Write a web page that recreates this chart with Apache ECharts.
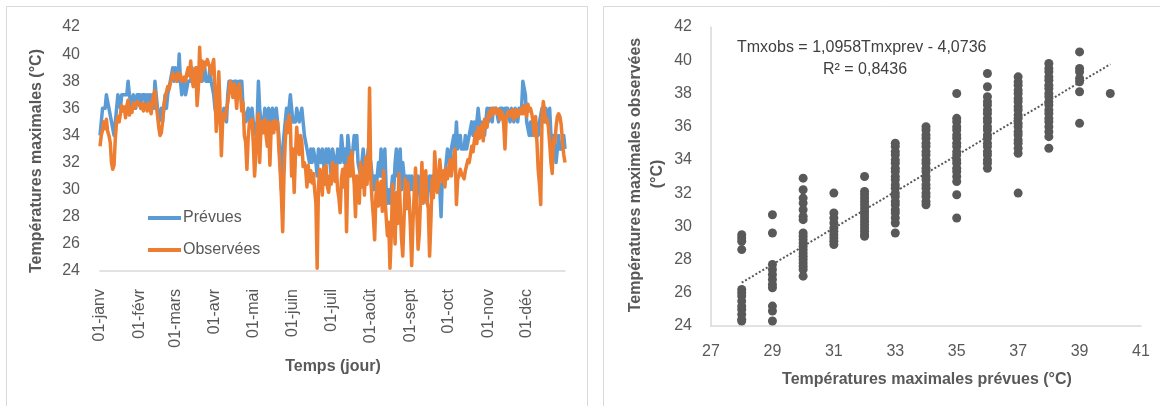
<!DOCTYPE html>
<html>
<head>
<meta charset="utf-8">
<script src="https://cdn.jsdelivr.net/npm/echarts@6/dist/echarts.min.js"></script>
<style>
html,body{margin:0;padding:0;background:#fff;}
#c{width:1160px;height:406px;}
</style>
</head>
<body>
<div id="c"></div>
<script>
// ---------- DATA ----------
const months = ['janv','févr','mars','avr','mai','juin','juil','août','sept','oct','nov','déc'];
const monthDays = [31,28,31,30,31,30,31,31,30,31,30,31];

// Températures maximales prévues (°C), daily
const prevues = [
34,35,36,36,36,37,37,36,36,35,
35,34,35,36,37,37,36,37,37,37,
37,37,38,37,37,36,37,37,36,37,
37,37,36,37,37,37,36,37,36,37,
36,37,36,38,37,36,35,35,36,35,
36,37,36,37,37,38,38,39,38,39,
39,38,40,38,37,37,38,37,37,38,
38,38,39,38,38,38,39,38,38,39,
38,38,39,38,38,38,39,38,38,37,
36,36,35,36,35,35,35,36,36,35,
37,38,38,38,37,38,38,38,37,38,
38,38,36,36,35,35,36,35,35,36,
35,35,34,35,38,36,35,35,35,36,
36,35,36,35,35,36,35,35,36,35,
34,32,30,33,34,35,36,35,36,37,
36,35,35,35,36,36,35,35,36,36,
34,34,33,33,32,33,32,33,33,32,
31,33,33,32,33,32,31,33,32,33,
32,31,33,33,32,31,33,33,32,34,
33,32,33,31,34,33,33,32,33,34,
33,34,32,32,31,32,33,32,31,32,
33,33,32,31,30,31,30,31,32,31,
33,31,32,33,30,29,30,29,30,31,
30,32,33,31,32,33,30,32,31,30,
31,30,31,30,31,30,30,31,30,31,
30,29,30,31,30,31,29,30,31,30,
31,30,31,30,31,31,30,28,31,31,
31,32,33,33,32,33,33,34,33,35,
33,33,34,33,33,33,34,33,33,34,
34,35,34,35,34,35,36,35,34,35,
35,34,35,36,35,36,36,35,36,36,
36,36,35,36,36,36,35,36,36,36,
36,35,36,36,35,36,36,35,36,36,
36,38,38,37,35,35,34,35,34,35,
34,35,35,34,35,35,36,36,35,36,
36,35,36,34,33,34,33,32,33,34,
33,33,33,34,33
];

// Températures maximales observées (°C), daily
const observees = [
33.2,34.0,34.4,35.0,34.5,35.2,34.3,34.0,33.5,32.0,
31.5,31.8,33.8,35.0,35.4,35.0,35.6,36.2,35.8,36.1,
35.3,36.2,36.6,35.5,36.0,35.7,36.4,36.0,35.9,36.5,
36.6,36.2,36.0,36.4,35.8,36.3,36.0,35.8,36.4,36.2,
35.6,36.5,37.0,37.3,36.2,35.5,34.6,34.0,34.2,35.0,
36.2,36.8,37.2,37.6,37.4,37.8,38.2,38.6,38.2,38.4,
38.0,38.6,38.2,38.5,38.0,37.9,38.3,38.0,38.6,39.0,
38.4,39.5,38.2,37.6,38.6,39.0,36.2,37.5,40.5,38.0,
39.5,38.8,39.4,39.2,39.6,39.5,39.0,38.5,39.2,39.6,
37.5,34.3,35.5,38.7,36.0,32.5,35.0,35.6,35.2,36.0,
36.4,37.2,38.0,37.6,36.8,37.8,37.2,36.0,37.5,37.8,
37.0,35.8,36.4,34.0,33.5,31.5,33.8,35.0,34.6,35.2,
33.4,31.0,32.6,34.8,35.6,32.0,34.6,35.0,34.2,35.2,
34.0,33.2,35.0,31.8,34.6,35.0,34.2,35.1,34.5,35.0,
33.0,31.5,29.5,26.9,31.0,33.6,35.0,34.2,35.5,35.0,
31.0,33.0,29.8,32.5,34.6,33.2,32.6,34.0,33.5,31.7,
32.0,31.5,30.2,31.8,30.6,31.4,30.5,31.2,30.0,29.0,
24.2,30.2,31.5,30.8,29.6,31.6,30.4,31.8,30.2,29.8,
31.0,30.4,32.0,31.2,30.6,31.8,30.0,29.4,28.3,30.8,
31.5,30.2,31.8,26.9,31.5,32.4,31.0,32.8,31.6,30.4,
28.0,31.0,30.6,29.0,32.0,30.2,31.6,29.6,32.4,30.4,
31.6,37.5,30.8,29.2,28.0,26.3,29.6,30.6,28.8,29.8,
30.6,28.4,31.4,29.6,28.0,26.6,27.6,24.2,26.6,30.4,
28.5,26.0,29.8,27.5,31.2,28.8,26.4,25.1,27.8,30.8,
28.6,30.5,29.4,27.2,24.4,27.6,29.8,31.6,28.4,25.6,
26.8,29.6,32.0,29.0,30.6,31.4,29.2,28.6,25.1,27.6,
30.8,29.4,32.8,31.2,29.8,30.4,32.2,31.0,30.6,31.4,
30.2,31.6,30.8,31.4,32.2,31.0,31.8,32.5,33.0,28.9,
30.8,31.0,31.5,31.2,31.0,30.8,31.4,31.8,32.2,32.0,
32.6,33.2,32.8,33.6,34.2,33.4,34.6,33.8,34.0,34.8,
33.6,35.2,35.0,34.6,35.5,35.8,35.4,36.0,35.6,35.8,
36.0,35.6,35.9,35.2,35.8,35.6,34.8,33.0,35.4,35.6,
35.8,35.4,35.6,35.9,35.2,35.6,35.9,35.4,35.8,35.6,
36.0,35.6,36.2,35.8,35.4,36.3,35.8,36.0,35.6,35.0,
34.0,35.4,33.6,31.5,30.4,28.9,35.2,36.5,35.8,35.0,
35.2,34.6,33.4,32.0,31.2,33.8,33.4,34.6,35.4,35.6,
35.4,34.8,33.6,32.6,32.0
];

// Scatter: predicted value (x) and the observed values seen at that x
const scatterPrev = [28,29,30,31,32,33,34,35,36,37,38,39,40];
const scatterObs = [
  [29.5,29.3,29.1,28.6,26.2,26.0,25.8,25.5,25.2,25.0,24.7,24.4,24.3],
  [30.7,29.6,27.7,27.4,27.1,26.8,26.5,26.3,25.2,24.9,24.3],
  [32.9,32.2,31.7,31.4,31.0,30.6,30.4,29.6,29.4,29.2,29.0,28.8,28.6,28.4,28.2,28.0,27.8,27.6,27.4,27.0],
  [32.0,30.8,30.5,30.2,29.9,29.7,29.5,29.3,29.1,28.9],
  [33.0,32.1,31.9,31.7,31.5,31.3,31.1,30.9,30.7,30.5,30.3,30.1,29.9,29.7,29.5,29.4],
  [35.0,34.8,34.5,34.3,34.0,33.8,33.5,33.3,33.0,32.8,32.5,32.3,32.0,31.8,31.5,31.3,31.0,30.8,30.5,30.2,29.6],
  [36.0,35.8,35.5,35.3,35.0,34.8,34.5,34.3,34.0,33.8,33.5,33.3,33.0,32.8,32.5,32.3,32.0,31.8,31.5,31.3],
  [38.0,36.5,36.3,36.0,35.8,35.5,35.3,35.0,34.8,34.5,34.3,34.0,33.8,33.5,33.3,33.0,32.7,31.9,30.5],
  [39.2,38.4,37.8,37.5,37.3,37.0,36.8,36.5,36.3,36.0,35.8,35.5,35.3,35.0,34.8,34.5,34.3,34.0,33.8,33.5],
  [39.0,38.7,38.5,38.2,38.0,37.7,37.5,37.2,37.0,36.7,36.5,36.2,36.0,35.7,35.5,35.2,35.0,34.7,34.4,32.0],
  [39.8,39.5,39.3,39.0,38.8,38.5,38.3,38.0,37.8,37.5,37.3,37.0,36.8,36.5,36.3,36.0,35.7,35.4,34.7],
  [40.5,39.5,39.3,38.9,38.7,38.1,36.2],
  [38.0]
];

// Linear trend (from the displayed equation)
const trendSlope = 1.0958;
const trendIntercept = -4.0736;
const trendRange = [28, 40];
const equationText = 'Tmxobs = 1,0958Tmxprev - 4,0736';
const r2Text = 'R² = 0,8436';

// ---------- BUILD ----------
const categories = [];
months.forEach((m, i) => {
  for (let d = 1; d <= monthDays[i]; d++) {
    categories.push((d < 10 ? '0' + d : '' + d) + '-' + m);
  }
});
const scatterData = [];
scatterPrev.forEach((x, i) => scatterObs[i].forEach(y => scatterData.push([x, y])));
const trendData = trendRange.map(x => [x, +(trendSlope * x + trendIntercept).toFixed(3)]);

const FONT = "'Liberation Sans', Arial, sans-serif";
const GREY = '#595959';
const AXIS = '#d9d9d9';

const chart = echarts.init(document.getElementById('c'), null, {renderer: 'canvas'});
chart.setOption({
  animation: false,
  backgroundColor: '#fff',
  textStyle: {fontFamily: FONT},
  graphic: [
    {type: 'rect', z: -10, shape: {x: 6.5, y: 6.5, width: 581, height: 420}, style: {fill: 'none', stroke: AXIS, lineWidth: 1}},
    {type: 'rect', z: -10, shape: {x: 603.5, y: 6.5, width: 570, height: 420}, style: {fill: 'none', stroke: AXIS, lineWidth: 1}},
    {type: 'text', x: 37, y: 161, rotation: Math.PI / 2,
      style: {text: 'Températures maximales (°C)', font: "bold 16px " + FONT, fill: GREY, textAlign: 'center', textVerticalAlign: 'middle', align: 'center', verticalAlign: 'middle'}},
    {type: 'text', x: 333, y: 367,
      style: {text: 'Temps (jour)', font: "bold 16px " + FONT, fill: GREY, textAlign: 'center', textVerticalAlign: 'middle', align: 'center', verticalAlign: 'middle'}},
    {type: 'text', x: 636, y: 175, rotation: Math.PI / 2,
      style: {text: 'Températures maximales observées', font: "bold 16px " + FONT, fill: GREY, textAlign: 'center', textVerticalAlign: 'middle', align: 'center', verticalAlign: 'middle'}},
    {type: 'text', x: 658, y: 174, rotation: Math.PI / 2,
      style: {text: '(°C)', font: "bold 16px " + FONT, fill: GREY, textAlign: 'center', textVerticalAlign: 'middle', align: 'center', verticalAlign: 'middle'}},
    {type: 'text', x: 927, y: 380,
      style: {text: 'Températures maximales prévues (°C)', font: "bold 16px " + FONT, fill: GREY, textAlign: 'center', textVerticalAlign: 'middle', align: 'center', verticalAlign: 'middle'}},
    {type: 'text', x: 737, y: 48,
      style: {text: equationText, font: "16px " + FONT, fill: '#404040', textAlign: 'left', textVerticalAlign: 'middle', align: 'left', verticalAlign: 'middle'}},
    {type: 'text', x: 865, y: 70,
      style: {text: r2Text, font: "16px " + FONT, fill: '#404040', textAlign: 'center', textVerticalAlign: 'middle', align: 'center', verticalAlign: 'middle'}}
  ],
  legend: {
    data: ['Prévues', 'Observées'],
    orient: 'vertical',
    left: 143, top: 205,
    icon: 'rect',
    itemWidth: 33, itemHeight: 4, itemGap: 16,
    textStyle: {fontSize: 16, color: GREY, fontFamily: FONT, padding: [0, 0, 0, -3]}
  },
  grid: [
    {left: 100, top: 27, width: 465, height: 244},
    {left: 711, top: 27, width: 430, height: 299}
  ],
  xAxis: [
    {type: 'category', gridIndex: 0, data: categories, boundaryGap: false,
      axisLine: {lineStyle: {color: AXIS, width: 1.5}}, axisTick: {show: false}, splitLine: {show: false},
      axisLabel: {rotate: 90, fontSize: 16, color: GREY, fontFamily: FONT, margin: 18,
        interval: (idx, val) => val.indexOf('01-') === 0}},
    {type: 'value', gridIndex: 1, min: 27, max: 41, interval: 2,
      axisLine: {show: true, lineStyle: {color: AXIS, width: 1.5}}, axisTick: {show: false}, splitLine: {show: false},
      axisLabel: {fontSize: 16, color: GREY, fontFamily: FONT, margin: 18}}
  ],
  yAxis: [
    {type: 'value', gridIndex: 0, min: 24, max: 42, interval: 2,
      axisLine: {show: false}, axisTick: {show: false}, splitLine: {show: false},
      axisLabel: {fontSize: 16, color: GREY, fontFamily: FONT, margin: 20}},
    {type: 'value', gridIndex: 1, min: 24, max: 42, interval: 2,
      axisLine: {show: true, lineStyle: {color: AXIS, width: 1.5}}, axisTick: {show: false}, splitLine: {show: false},
      axisLabel: {fontSize: 16, color: GREY, fontFamily: FONT, margin: 19}}
  ],
  series: [
    {name: 'Prévues', type: 'line', xAxisIndex: 0, yAxisIndex: 0, data: prevues,
      symbol: 'none', color: '#5B9BD5', lineStyle: {width: 3.5, color: '#5B9BD5', join: 'round'}},
    {name: 'Observées', type: 'line', xAxisIndex: 0, yAxisIndex: 0, data: observees,
      symbol: 'none', color: '#ED7D31', lineStyle: {width: 3.5, color: '#ED7D31', join: 'round'}},
    {name: 'obs', type: 'scatter', xAxisIndex: 1, yAxisIndex: 1, data: scatterData,
      symbolSize: 9, itemStyle: {color: GREY, opacity: 1}},
    {name: 'trend', type: 'line', xAxisIndex: 1, yAxisIndex: 1, data: trendData,
      symbol: 'none', z: 3, lineStyle: {type: 'dotted', width: 2, color: GREY}}
  ]
});
</script>
</body>
</html>
